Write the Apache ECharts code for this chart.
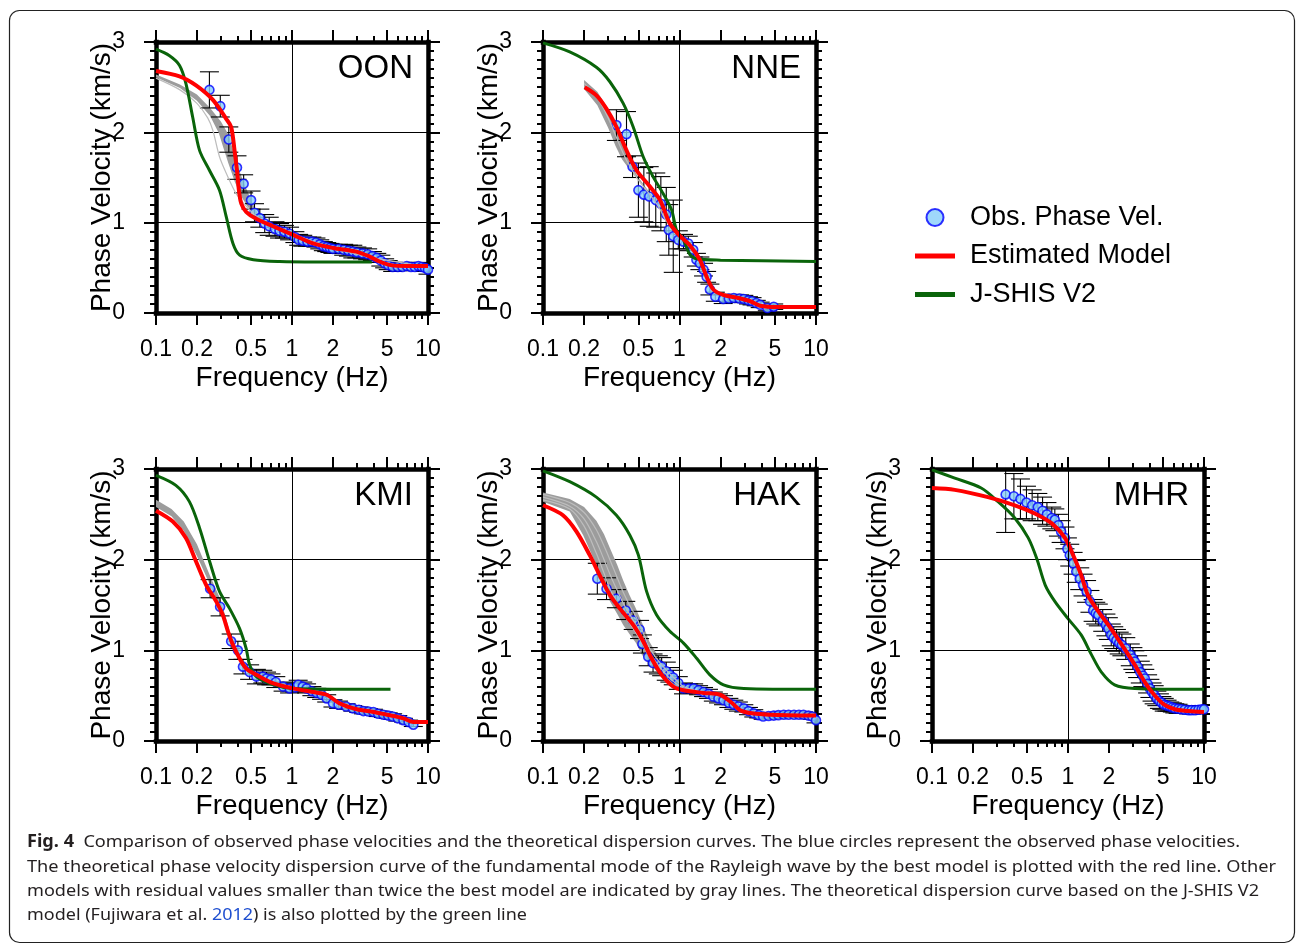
<!DOCTYPE html>
<html><head><meta charset="utf-8">
<script src="https://cdn.jsdelivr.net/npm/echarts@6/dist/echarts.min.js"></script>
<style>html,body{margin:0;padding:0;background:#fff}#c{width:1296px;height:944px}</style>
</head><body><div id="c"></div><script>
// ---------------- data ----------------
const xMajorTicks = [0.1, 0.2, 0.5, 1, 2, 5, 10];
const xMinorTicks = [0.3, 0.4, 0.6, 0.7, 0.8, 0.9, 3, 4, 6, 7, 8, 9];
const xGridLines = [1];
const stationNames = ['OON', 'NNE', 'KMI', 'HAK', 'MHR'];

// observed phase velocity: [frequency Hz, velocity km/s, error half-length]
const oonObs = [[0.247,2.47,0.20],[0.297,2.29,0.12],[0.343,1.92,0.14],[0.394,1.61,0.13],[0.441,1.43,0.10],[0.50,1.25,0.10],[0.53,1.11,0.10],[0.58,1.05,0.10],[0.63,0.99,0.10],[0.68,0.96,0.10],[0.75,0.93,0.08],[0.81,0.91,0.08],[0.88,0.90,0.07],[0.96,0.88,0.07],[1.05,0.84,0.06],[1.12,0.81,0.06],[1.2,0.80,0.06],[1.3,0.79,0.05],[1.4,0.79,0.05],[1.5,0.78,0.05],[1.6,0.76,0.05],[1.7,0.74,0.05],[1.8,0.73,0.05],[1.9,0.72,0.05],[2.0,0.71,0.05],[2.2,0.71,0.05],[2.4,0.70,0.06],[2.6,0.69,0.06],[2.8,0.68,0.07],[3.0,0.67,0.06],[3.3,0.66,0.06],[3.6,0.65,0.06],[3.9,0.63,0.05],[4.2,0.61,0.05],[4.5,0.58,0.06],[4.8,0.55,0.05],[5.1,0.53,0.05],[5.5,0.51,0.05],[6.0,0.51,0.04],[6.5,0.51,0.04],[7.0,0.52,0.04],[7.5,0.51,0.04],[8.0,0.51,0.04],[8.5,0.52,0.04],[9.0,0.51,0.04],[9.5,0.50,0.04],[10,0.48,0.05]];
const nneObs = [[0.345,2.08,0.17],[0.409,1.98,0.25],[0.453,1.62,0.12],[0.50,1.36,0.30],[0.548,1.31,0.30],[0.60,1.29,0.33],[0.67,1.25,0.30],[0.73,1.21,0.30],[0.80,1.09,0.30],[0.835,0.92,0.28],[0.90,0.85,0.40],[0.98,0.81,0.10],[1.07,0.79,0.08],[1.16,0.77,0.08],[1.26,0.70,0.08],[1.33,0.59,0.07],[1.41,0.55,0.07],[1.5,0.48,0.07],[1.58,0.40,0.06],[1.67,0.26,0.06],[1.83,0.18,0.05],[2.09,0.155,0.05],[2.3,0.16,0.04],[2.5,0.166,0.04],[2.75,0.16,0.04],[2.96,0.155,0.04],[3.2,0.14,0.04],[3.4,0.13,0.04],[3.65,0.11,0.03],[3.9,0.09,0.03],[4.4,0.055,0.03],[4.9,0.07,0.03]];
const kmiObs = [[0.25,1.68,0.10],[0.296,1.48,0.10],[0.357,1.10,0.08],[0.40,1.00,0.10],[0.436,0.82,0.08],[0.488,0.76,0.08],[0.547,0.71,0.08],[0.61,0.71,0.07],[0.65,0.69,0.07],[0.70,0.68,0.06],[0.76,0.65,0.06],[0.86,0.60,0.05],[0.96,0.58,0.05],[1.05,0.59,0.05],[1.11,0.62,0.05],[1.2,0.60,0.05],[1.28,0.58,0.05],[1.4,0.55,0.05],[1.52,0.53,0.05],[1.65,0.51,0.05],[1.8,0.47,0.04],[2.0,0.415,0.04],[2.2,0.40,0.04],[2.5,0.38,0.03],[2.8,0.36,0.03],[3.1,0.345,0.03],[3.35,0.33,0.03],[3.65,0.325,0.03],[3.97,0.32,0.03],[4.3,0.30,0.03],[4.7,0.29,0.03],[5.1,0.28,0.03],[5.5,0.27,0.03],[6.0,0.25,0.03],[6.6,0.23,0.02],[7.2,0.21,0.02],[7.8,0.18,0.02]];
const hakObs = [[0.25,1.79,0.17],[0.292,1.68,0.12],[0.345,1.57,0.10],[0.404,1.44,0.10],[0.458,1.33,0.10],[0.51,1.23,0.10],[0.535,1.07,0.10],[0.59,0.93,0.10],[0.64,0.86,0.10],[0.70,0.84,0.10],[0.74,0.82,0.10],[0.80,0.77,0.10],[0.85,0.73,0.08],[0.90,0.70,0.08],[0.98,0.64,0.07],[1.07,0.58,0.06],[1.17,0.58,0.05],[1.27,0.58,0.05],[1.38,0.56,0.05],[1.5,0.54,0.05],[1.63,0.52,0.05],[1.77,0.49,0.05],[1.93,0.47,0.05],[2.1,0.45,0.05],[2.3,0.42,0.05],[2.5,0.40,0.05],[2.7,0.38,0.05],[2.96,0.36,0.04],[3.2,0.33,0.04],[3.5,0.305,0.04],[3.8,0.285,0.03],[4.1,0.27,0.03],[4.5,0.275,0.03],[4.9,0.28,0.03],[5.3,0.285,0.03],[5.8,0.29,0.03],[6.3,0.29,0.03],[6.9,0.29,0.03],[7.5,0.29,0.03],[8.1,0.29,0.03],[8.8,0.28,0.03],[9.4,0.27,0.03],[10,0.23,0.03]];
const mhrObs = [[0.348,2.72,0.42],[0.40,2.70,0.25],[0.447,2.67,0.22],[0.495,2.63,0.18],[0.545,2.60,0.17],[0.60,2.58,0.15],[0.65,2.54,0.15],[0.70,2.50,0.13],[0.76,2.46,0.12],[0.80,2.44,0.12],[0.85,2.38,0.12],[0.89,2.31,0.12],[0.95,2.24,0.12],[0.99,2.12,0.12],[1.03,2.05,0.12],[1.09,1.96,0.12],[1.15,1.87,0.12],[1.22,1.79,0.12],[1.29,1.72,0.12],[1.37,1.65,0.12],[1.45,1.54,0.12],[1.53,1.44,0.12],[1.6,1.41,0.12],[1.67,1.39,0.12],[1.8,1.33,0.12],[1.9,1.28,0.12],[1.98,1.24,0.12],[2.08,1.17,0.12],[2.17,1.14,0.12],[2.27,1.11,0.12],[2.38,1.08,0.12],[2.49,1.06,0.12],[2.66,1.02,0.12],[2.87,0.95,0.12],[3.0,0.91,0.12],[3.1,0.875,0.12],[3.25,0.82,0.12],[3.4,0.76,0.12],[3.55,0.72,0.12],[3.67,0.69,0.10],[3.85,0.63,0.10],[4.0,0.58,0.10],[4.15,0.54,0.10],[4.3,0.51,0.10],[4.5,0.47,0.08],[4.7,0.44,0.08],[4.9,0.42,0.07],[5.1,0.40,0.07],[5.35,0.39,0.06],[5.6,0.38,0.05],[5.85,0.37,0.05],[6.1,0.36,0.05],[6.45,0.355,0.05],[6.8,0.35,0.04],[7.2,0.345,0.04],[7.7,0.34,0.04],[8.1,0.34,0.04],[8.6,0.34,0.04],[9.1,0.345,0.04],[9.6,0.35,0.04],[10,0.35,0.04]];

// estimated model (red)
const oonRed = [[0.1,2.68],[0.149,2.62],[0.197,2.52],[0.262,2.36],[0.328,2.15],[0.357,2.06],[0.378,1.80],[0.394,1.58],[0.407,1.36],[0.424,1.21],[0.46,1.12],[0.55,1.04],[0.725,0.96],[1.02,0.865],[1.43,0.77],[2.0,0.72],[2.97,0.68],[3.73,0.625],[4.4,0.57],[5.3,0.53],[7.0,0.52],[10,0.52]];
const nneRed = [[0.202,2.50],[0.246,2.41],[0.292,2.26],[0.345,2.06],[0.409,1.80],[0.484,1.58],[0.607,1.40],[0.72,1.25],[0.85,0.99],[1.01,0.85],[1.19,0.75],[1.41,0.59],[1.58,0.40],[1.77,0.26],[2.09,0.20],[2.62,0.17],[3.3,0.13],[3.9,0.08],[5.2,0.066],[10,0.066]];
const kmiRed = [[0.1,2.54],[0.133,2.42],[0.166,2.24],[0.197,1.98],[0.234,1.72],[0.277,1.54],[0.31,1.39],[0.338,1.21],[0.368,1.06],[0.412,0.91],[0.46,0.80],[0.547,0.73],[0.69,0.65],[1.02,0.58],[1.43,0.54],[1.8,0.51],[2.24,0.415],[3.0,0.35],[3.97,0.32],[5.0,0.29],[6.6,0.25],[7.8,0.21],[10,0.21]];
const hakRed = [[0.1,2.60],[0.14,2.49],[0.176,2.31],[0.22,2.05],[0.26,1.83],[0.309,1.61],[0.366,1.46],[0.458,1.28],[0.542,1.10],[0.625,0.91],[0.74,0.73],[0.9,0.60],[1.07,0.56],[1.5,0.53],[1.98,0.51],[2.38,0.43],[2.78,0.34],[3.4,0.305],[4.6,0.29],[10,0.28]];
const mhrRed = [[0.1,2.79],[0.147,2.77],[0.258,2.69],[0.406,2.60],[0.57,2.51],[0.76,2.40],[0.95,2.24],[1.12,2.01],[1.25,1.83],[1.40,1.61],[1.67,1.43],[1.98,1.28],[2.49,1.06],[3.1,0.84],[3.67,0.65],[4.3,0.51],[5.1,0.40],[6.1,0.35],[7.7,0.33],[10,0.32]];

// J-SHIS V2 (green)
const oonGreen = [[0.1,2.92],[0.125,2.85],[0.149,2.74],[0.166,2.54],[0.186,2.17],[0.209,1.80],[0.247,1.58],[0.293,1.36],[0.328,1.07],[0.368,0.77],[0.412,0.64],[0.52,0.59],[0.81,0.57],[1.5,0.565],[3.86,0.565]];
const nneGreen = [[0.1,2.99],[0.157,2.89],[0.246,2.72],[0.309,2.56],[0.387,2.32],[0.458,2.06],[0.542,1.73],[0.64,1.51],[0.76,1.32],[0.876,1.14],[0.95,0.92],[1.07,0.81],[1.19,0.65],[1.34,0.60],[2,0.585],[10,0.57]];
const kmiGreen = [[0.1,2.93],[0.14,2.82],[0.176,2.64],[0.209,2.35],[0.248,1.98],[0.293,1.65],[0.348,1.46],[0.412,1.24],[0.46,1.02],[0.488,0.84],[0.547,0.71],[0.73,0.62],[1.02,0.58],[5.3,0.57]];
const hakGreen = [[0.1,2.98],[0.157,2.86],[0.246,2.69],[0.345,2.49],[0.433,2.27],[0.5,2.05],[0.574,1.65],[0.68,1.39],[0.85,1.21],[1.07,1.08],[1.34,0.91],[1.67,0.73],[2.1,0.62],[2.96,0.58],[10,0.57]];
const mhrGreen = [[0.1,2.99],[0.147,2.90],[0.23,2.79],[0.306,2.64],[0.406,2.46],[0.51,2.24],[0.59,2.01],[0.68,1.72],[0.8,1.54],[1.0,1.35],[1.25,1.17],[1.49,0.95],[1.76,0.76],[2.2,0.62],[3.1,0.58],[10,0.57]];

// other acceptable models (gray): band envelopes and individual lines
const oonBandUpper = [[0.1,2.64],[0.15,2.53],[0.2,2.42],[0.25,2.27],[0.3,2.12],[0.34,1.98],[0.37,1.80],[0.40,1.62],[0.44,1.45],[0.50,1.25],[0.56,1.10],[0.65,1.0],[1,0.88]];
const oonBandLower = [[0.1,2.61],[0.15,2.49],[0.2,2.35],[0.25,2.18],[0.29,1.99],[0.31,1.85],[0.34,1.66],[0.38,1.45],[0.42,1.30],[0.47,1.18],[0.55,1.07],[0.7,0.97],[1,0.88]];
const oonGrayLines = [[[0.1,2.60],[0.15,2.47],[0.2,2.32],[0.24,2.16],[0.262,2.02],[0.293,1.73],[0.328,1.55],[0.389,1.32],[0.45,1.20],[0.52,1.10],[0.65,1.0],[1,0.88],[2,0.72],[4,0.61],[10,0.51]]];
const nneBandUpper = [[0.2,2.58],[0.25,2.45],[0.3,2.26],[0.35,2.02],[0.4,1.80],[0.45,1.62],[0.5,1.50],[0.6,1.34],[0.7,1.20],[0.8,1.02],[0.9,0.92],[1,0.85]];
const nneBandLower = [[0.2,2.48],[0.25,2.30],[0.3,2.05],[0.34,1.85],[0.38,1.70],[0.45,1.55],[0.55,1.40],[0.7,1.18],[1,0.85]];
const nneGrayLines = [[[0.2,2.54],[0.25,2.38],[0.3,2.16],[0.35,1.92],[0.4,1.72],[0.45,1.58],[0.5,1.47],[0.6,1.32],[0.7,1.18],[0.8,1.02],[1,0.85]]];
const kmiBandUpper = [[0.1,2.66],[0.13,2.56],[0.16,2.42],[0.2,2.17],[0.25,1.82],[0.3,1.55],[0.35,1.20],[0.4,0.95],[0.45,0.82],[0.55,0.73],[0.7,0.66],[1,0.59]];
const kmiBandLower = [[0.1,2.58],[0.13,2.48],[0.16,2.32],[0.2,2.04],[0.25,1.72],[0.3,1.46],[0.35,1.12],[0.4,0.92],[0.45,0.80],[0.55,0.73],[0.7,0.66],[1,0.59]];
const kmiGrayLines = [];
const hakBandUpper = [[0.1,2.74],[0.157,2.67],[0.2,2.58],[0.246,2.43],[0.28,2.28],[0.309,2.13],[0.35,1.94],[0.387,1.77],[0.43,1.61],[0.48,1.46],[0.54,1.28],[0.6,1.10],[0.68,0.96],[0.76,0.87],[0.85,0.79],[0.95,0.72],[1.07,0.62],[1.3,0.57]];
const hakBandLower = [[0.1,2.64],[0.157,2.53],[0.197,2.27],[0.246,1.94],[0.28,1.72],[0.309,1.54],[0.35,1.40],[0.387,1.28],[0.43,1.18],[0.48,1.08],[0.53,0.95],[0.57,0.90],[0.65,0.80],[0.72,0.73],[0.8,0.67],[0.9,0.62],[1.07,0.56],[1.3,0.55]];
const hakGrayLines = [
  [[0.1,2.72],[0.157,2.63],[0.2,2.52],[0.246,2.33],[0.28,2.15],[0.309,2.00],[0.35,1.80],[0.387,1.64],[0.43,1.50],[0.48,1.37],[0.54,1.20],[0.6,1.03],[0.68,0.91],[0.76,0.82],[0.85,0.74],[0.95,0.67],[1.07,0.60],[1.3,0.56]],
  [[0.1,2.69],[0.157,2.59],[0.2,2.45],[0.246,2.20],[0.28,2.00],[0.309,1.84],[0.35,1.66],[0.387,1.52],[0.43,1.40],[0.48,1.28],[0.54,1.13],[0.6,0.98],[0.68,0.86],[0.76,0.77],[0.85,0.69],[0.95,0.63],[1.07,0.58],[1.3,0.55]],
  [[0.1,2.66],[0.157,2.56],[0.2,2.37],[0.246,2.07],[0.28,1.85],[0.309,1.68],[0.35,1.52],[0.387,1.40],[0.43,1.30],[0.48,1.19],[0.54,1.06],[0.6,0.93],[0.68,0.81],[0.76,0.72],[0.85,0.66],[0.95,0.60],[1.07,0.57],[1.3,0.55]]
];
const mhrBandUpper = [];
const mhrBandLower = [];
const mhrGrayLines = [];

const captionLines = [
  ['Fig. 4', '  Comparison of observed phase velocities and the theoretical dispersion curves. The blue circles represent the observed phase velocities.'],
  ['', 'The theoretical phase velocity dispersion curve of the fundamental mode of the Rayleigh wave by the best model is plotted with the red line. Other'],
  ['', 'models with residual values smaller than twice the best model are indicated by gray lines. The theoretical dispersion curve based on the J-SHIS V2'],
  ['', 'model (Fujiwara et al. ', '2012', ') is also plotted by the green line']
];

// ---------------- layout ----------------
const FONT = '"Liberation Sans", Arial, Helvetica, sans-serif';
const CAPFONT = '"Noto Sans", "Open Sans", sans-serif';
const panels = [
  {obs: oonObs, red: oonRed, green: oonGreen, up: oonBandUpper, lo: oonBandLower, gray: oonGrayLines, left: 156, top: 42, width: 272, height: 271},
  {obs: nneObs, red: nneRed, green: nneGreen, up: nneBandUpper, lo: nneBandLower, gray: nneGrayLines, left: 543, top: 42, width: 273, height: 271},
  {obs: kmiObs, red: kmiRed, green: kmiGreen, up: kmiBandUpper, lo: kmiBandLower, gray: kmiGrayLines, left: 156, top: 469, width: 272, height: 272},
  {obs: hakObs, red: hakRed, green: hakGreen, up: hakBandUpper, lo: hakBandLower, gray: hakGrayLines, left: 543, top: 469, width: 273, height: 272},
  {obs: mhrObs, red: mhrRed, green: mhrGreen, up: mhrBandUpper, lo: mhrBandLower, gray: mhrGrayLines, left: 932, top: 469, width: 272, height: 272}
];

const RED = '#ff0000', GREEN = '#0a640a', FILL = '#87cefa', EDGE = '#0000ff';
const grids = [], xAxes = [], yAxes = [], series = [], graphics = [];

function xAxis(i, pos, ticks, len, primary) {
  const withLabel = primary && pos === 'bottom';
  return {
    type: 'log', logBase: 10, gridIndex: i, position: pos, min: 0.1, max: 10,
    axisLine: {show: primary, onZero: false, lineStyle: {color: '#000', width: 4.5, cap: 'square'}},
    axisTick: {show: true, inside: false, length: len, customValues: ticks, lineStyle: {color: '#000', width: 2}},
    axisLabel: {show: withLabel, customValues: ticks, margin: 25, color: '#000', fontSize: 23, fontFamily: FONT,
      formatter: v => String(+(+v).toPrecision(4))},
    splitLine: {show: false}, minorTick: {show: false}, minorSplitLine: {show: false},
    name: withLabel ? 'Frequency (Hz)' : '', nameLocation: 'middle', nameGap: 51, nameMoveOverlap: false,
    nameTextStyle: {color: '#000', fontSize: 28, fontFamily: FONT},
    silent: true
  };
}
function yAxis(i, pos) {
  const left = pos === 'left';
  return {
    type: 'value', gridIndex: i, position: pos, min: 0, max: 3, interval: 1,
    axisLine: {show: true, onZero: false, lineStyle: {color: '#000', width: 4.5, cap: 'square'}},
    axisTick: {show: true, inside: false, length: 12, lineStyle: {color: '#000', width: 2}},
    minorTick: {show: true, splitNumber: 10, length: 6, lineStyle: {color: '#000', width: 2}},
    axisLabel: {show: left, margin: 31, color: '#000', fontSize: 23, fontFamily: FONT},
    splitLine: {show: left, lineStyle: {color: '#000', width: 1}},
    name: left ? 'Phase Velocity (km/s)' : '', nameLocation: 'middle', nameGap: 40, nameMoveOverlap: false,
    nameTextStyle: {color: '#000', fontSize: 28, fontFamily: FONT},
    silent: true
  };
}
function bandRender(up, lo) {
  return function (params, api) {
    const pts = up.map(d => api.coord(d)).concat(lo.slice().reverse().map(d => api.coord(d)));
    return {type: 'polygon', shape: {points: pts}, style: {fill: '#9c9c9c'}};
  };
}
function errRender(params, api) {
  const f = api.value(0), lo = api.value(1), hi = api.value(2);
  const a = api.coord([f, hi]), b = api.coord([f, lo]);
  const w = 9.5, st = {stroke: '#000', lineWidth: 1.1};
  return {type: 'group', children: [
    {type: 'line', shape: {x1: a[0], y1: a[1], x2: b[0], y2: b[1]}, style: st},
    {type: 'line', shape: {x1: a[0] - w, y1: a[1], x2: a[0] + w, y2: a[1]}, style: st},
    {type: 'line', shape: {x1: b[0] - w, y1: b[1], x2: b[0] + w, y2: b[1]}, style: st}
  ]};
}

panels.forEach((p, i) => {
  grids.push({left: p.left, top: p.top, width: p.width, height: p.height, containLabel: false, outerBoundsMode: 'none'});
  xAxes.push(xAxis(i, 'bottom', xMajorTicks, 12, true));
  xAxes.push(xAxis(i, 'bottom', xMinorTicks, 6, false));
  xAxes.push(xAxis(i, 'top', xMajorTicks, 12, true));
  xAxes.push(xAxis(i, 'top', xMinorTicks, 6, false));
  yAxes.push(yAxis(i, 'left'));
  yAxes.push(yAxis(i, 'right'));
  const xi = 4 * i, yi = 2 * i;
  series.push({type: 'line', name: 'grid', xAxisIndex: xi, yAxisIndex: yi, data: [], silent: true,
    markLine: {silent: true, symbol: 'none', label: {show: false}, animation: false,
      lineStyle: {color: '#000', width: 1, type: 'solid'}, data: xGridLines.map(v => ({xAxis: v}))}});
  if (p.up.length) {
    series.push({type: 'custom', name: 'band', xAxisIndex: xi, yAxisIndex: yi, silent: true, clip: true,
      renderItem: bandRender(p.up, p.lo), data: [[1, 1]]});
  }
  p.gray.forEach(g => series.push({type: 'line', name: 'gray', xAxisIndex: xi, yAxisIndex: yi, data: g, silent: true,
    showSymbol: false, symbol: 'none', smooth: 0.3, lineStyle: {color: '#bdbdbd', width: 1.2}}));
  series.push({type: 'line', name: 'J-SHIS V2', xAxisIndex: xi, yAxisIndex: yi, data: p.green, showSymbol: false,
    symbol: 'none', smooth: 0.3, lineStyle: {color: GREEN, width: 3}, itemStyle: {color: GREEN}, silent: true});
  series.push({type: 'custom', name: 'err', xAxisIndex: xi, yAxisIndex: yi, silent: true, clip: true,
    renderItem: errRender, encode: {x: 0, y: [1, 2]}, data: p.obs.map(d => [d[0], d[1] - d[2], d[1] + d[2]])});
  series.push({type: 'scatter', name: 'Obs. Phase Vel.', xAxisIndex: xi, yAxisIndex: yi, data: p.obs.map(d => [d[0], d[1]]),
    symbol: 'circle', symbolSize: 9, itemStyle: {color: FILL, borderColor: EDGE, borderWidth: 1.6}, silent: true});
  series.push({type: 'line', name: 'Estimated Model', xAxisIndex: xi, yAxisIndex: yi, data: p.red, showSymbol: false,
    symbol: 'none', smooth: 0.3, lineStyle: {color: RED, width: 4}, itemStyle: {color: RED}, silent: true});
  graphics.push({type: 'text', x: p.left + p.width - 15, y: p.top + 27, silent: true,
    style: {text: stationNames[i], fontSize: 33, fontFamily: FONT, fill: '#000',
      align: 'right', verticalAlign: 'middle', textAlign: 'right', textVerticalAlign: 'middle'}});
});

// figure frame
graphics.unshift({type: 'rect', silent: true, shape: {x: 9.5, y: 10.5, width: 1285, height: 932, r: 10},
  style: {fill: 'none', stroke: '#222', lineWidth: 1.2}});

// caption
const capSize = 17;
const ctx = document.createElement('canvas').getContext('2d');
function mw(t, bold) { ctx.font = (bold ? 'bold ' : '') + capSize + 'px ' + CAPFONT; return ctx.measureText(t).width; }
const capTargets = [1213, 1249, 1232, 500];
const capY = [842, 867, 891, 915];
captionLines.forEach((ln, k) => {
  let text, w;
  if (k === 0) { text = '{b|' + ln[0] + '}' + ln[1]; w = mw(ln[0], true) + mw(ln[1]); }
  else if (k === 3) { text = ln[1] + '{a|' + ln[2] + '}' + ln[3]; w = mw(ln[1]) + mw(ln[2]) + mw(ln[3]); }
  else { text = ln[1]; w = mw(ln[1]); }
  graphics.push({type: 'text', x: 27, y: capY[k], scaleX: capTargets[k] / w, silent: true,
    style: {text: text, fontSize: capSize, fontFamily: CAPFONT, fill: '#231f20',
      align: 'left', verticalAlign: 'middle', textAlign: 'left', textVerticalAlign: 'middle',
      rich: {b: {fontWeight: 'bold', fontSize: capSize, fontFamily: CAPFONT, fill: '#231f20'},
             a: {fontSize: capSize, fontFamily: CAPFONT, fill: '#1f4fd0'}}}});
});

const LINEICON = 'path://M0,0H40V5H0Z';
const chart = echarts.init(document.getElementById('c'), null, {renderer: 'canvas'});
chart.setOption({
  animation: false,
  backgroundColor: '#fff',
  textStyle: {fontFamily: FONT},
  grid: grids, xAxis: xAxes, yAxis: yAxes, series: series,
  legend: {show: true, orient: 'vertical', left: 910, top: 199, itemWidth: 40, itemHeight: 17, itemGap: 11.5,
    selectedMode: false, symbolKeepAspect: true,
    data: [{name: 'Obs. Phase Vel.', icon: 'circle'}, {name: 'Estimated Model', icon: LINEICON}, {name: 'J-SHIS V2', icon: LINEICON}],
    textStyle: {fontSize: 27, color: '#000', fontFamily: FONT, padding: [0, 0, 0, 10]}},
  graphic: {elements: graphics}
});
</script></body></html>
